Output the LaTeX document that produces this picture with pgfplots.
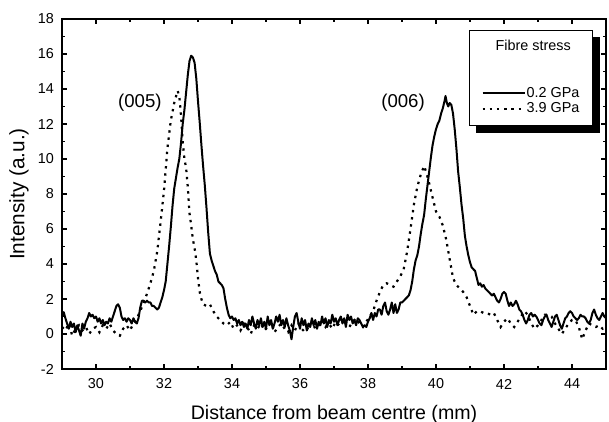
\documentclass[border=0pt]{standalone}
\usepackage{pgfplots}
\pgfplotsset{compat=1.18}
\usepackage{fontspec}
\setmainfont{Liberation Sans}
\usetikzlibrary{backgrounds}

\pgfplotstableread{
x y
29.00 1.0
29.05 1.25
29.10 0.9
29.15 0.6
29.20 0.3
29.25 0.7
29.30 0.4
29.35 0.6
29.40 0.1
29.45 0.5
29.50 0.2
29.55 -0.1
29.60 0.6
29.65 0.3
29.70 0.7
29.75 0.9
29.80 1.2
29.85 1.0
29.90 1.1
29.95 0.9
30.00 1.0
30.05 0.7
30.10 0.9
30.15 0.6
30.20 0.8
30.25 0.5
30.30 0.7
30.35 0.6
30.40 0.9
30.45 0.7
30.50 1.0
30.55 1.3
30.60 1.6
30.65 1.7
30.70 1.5
30.75 1.0
30.80 0.8
30.85 0.9
30.90 0.7
30.95 0.9
31.00 0.8
31.05 0.6
31.10 0.9
31.15 0.7
31.20 0.6
31.25 0.9
31.30 1.5
31.35 1.9
31.40 1.9
31.45 1.8
31.50 1.9
31.55 1.8
31.60 1.8
31.65 1.6
31.70 1.6
31.75 1.5
31.80 1.4
31.85 1.5
31.90 1.8
31.95 2.1
32.00 2.5
32.05 3.0
32.10 4.0
32.15 5.0
32.20 6.1
32.25 7.3
32.30 8.3
32.35 8.9
32.40 9.5
32.45 10.0
32.50 10.9
32.55 12.0
32.60 12.8
32.65 13.8
32.70 14.8
32.75 15.6
32.80 15.9
32.85 15.8
32.90 15.5
32.95 14.6
33.00 13.3
33.05 12.1
33.10 10.8
33.15 9.6
33.20 8.5
33.25 7.2
33.30 5.8
33.35 4.6
33.40 4.2
33.45 3.9
33.50 3.6
33.55 3.4
33.60 3.0
33.65 2.9
33.70 2.8
33.75 2.6
33.80 2.0
33.85 1.5
33.90 1.1
33.95 0.9
34.00 1.0
34.05 0.8
34.10 0.9
34.15 0.6
34.20 0.8
34.25 0.5
34.30 0.7
34.35 0.4
34.40 0.6
34.45 0.3
34.50 0.8
34.55 0.5
34.60 1.0
34.65 0.6
34.70 0.3
34.75 0.8
34.80 0.5
34.85 0.9
34.90 0.4
34.95 0.7
35.00 0.3
35.05 1.0
35.10 0.5
35.15 0.8
35.20 0.3
35.25 0.6
35.30 1.0
35.35 0.7
35.40 1.1
35.45 0.5
35.50 0.8
35.55 0.4
35.60 0.9
35.65 0.5
35.70 0.2
35.75 -0.3
35.80 0.4
35.85 1.0
35.90 1.2
35.95 0.7
36.00 0.3
36.05 0.9
36.10 0.5
36.15 0.8
36.20 0.2
36.25 0.6
36.30 0.4
36.35 0.9
36.40 0.5
36.45 0.8
36.50 0.3
36.55 0.7
36.60 0.5
36.65 1.0
36.70 0.6
36.75 0.9
36.80 0.4
36.85 0.8
36.90 0.6
36.95 1.1
37.00 0.7
37.05 0.9
37.10 0.5
37.15 0.8
37.20 1.0
37.25 0.6
37.30 0.9
37.35 0.4
37.40 1.1
37.45 0.8
37.50 1.0
37.55 0.6
37.60 0.8
37.65 0.5
37.70 0.9
37.75 0.8
37.80 0.6
37.85 0.4
37.90 0.5
37.95 0.4
38.00 0.7
38.05 0.9
38.10 1.2
38.15 0.8
38.20 1.2
38.25 1.0
38.30 1.4
38.35 1.4
38.40 1.1
38.45 1.6
38.50 1.8
38.55 1.3
38.60 1.1
38.65 1.4
38.70 1.8
38.75 1.2
38.80 1.7
38.85 1.2
38.90 1.4
38.95 1.8
39.00 1.8
39.05 1.9
39.10 2.0
39.15 2.1
39.20 2.2
39.25 2.5
39.30 3.0
39.35 3.7
39.40 4.2
39.45 4.5
39.50 5.0
39.55 5.7
39.60 6.3
39.65 6.8
39.70 7.7
39.75 8.5
39.80 9.3
39.85 10.1
39.90 10.8
39.95 11.3
40.00 11.7
40.05 12.0
40.10 12.2
40.15 12.6
40.20 12.9
40.25 13.3
40.28 13.6
40.32 13.2
40.36 13.0
40.40 13.2
40.45 13.1
40.50 12.6
40.55 11.7
40.60 10.6
40.65 9.3
40.70 8.4
40.75 7.4
40.80 6.6
40.85 5.6
40.90 5.0
40.95 4.5
41.00 4.1
41.05 3.8
41.10 3.7
41.15 3.6
41.20 3.2
41.25 2.8
41.30 2.9
41.35 2.7
41.40 2.8
41.45 2.6
41.50 2.5
41.55 2.4
41.60 2.3
41.65 2.2
41.70 2.3
41.75 2.1
41.80 1.9
41.85 1.8
41.90 2.0
41.95 2.3
42.00 2.4
42.05 2.3
42.10 1.9
42.15 1.6
42.20 1.8
42.25 1.6
42.30 1.7
42.35 1.9
42.40 1.7
42.45 1.4
42.50 1.3
42.55 1.1
42.60 0.8
42.65 0.6
42.70 0.8
42.75 1.1
42.80 1.2
42.85 1.0
42.90 1.1
42.95 1.0
43.00 0.8
43.05 0.6
43.10 0.5
43.15 0.8
43.20 1.0
43.25 1.1
43.30 0.8
43.35 0.6
43.40 0.4
43.45 0.7
43.50 1.0
43.55 1.1
43.60 0.8
43.65 0.5
43.70 0.3
43.75 0.6
43.80 0.9
43.85 1.0
43.90 1.2
43.95 1.3
44.00 1.2
44.05 1.0
44.10 0.9
44.15 0.8
44.20 0.9
44.25 1.1
44.30 1.0
44.35 1.0
44.40 0.9
44.45 0.7
44.50 0.6
44.55 0.8
44.60 1.2
44.65 1.4
44.70 1.1
44.75 0.9
44.80 0.8
44.85 1.0
44.90 1.2
44.95 1.0
45.00 0.9
}\lowstress

\pgfplotstableread{
x y
29.00 0.4
29.10 0.2
29.20 0.6
29.30 -0.1
29.40 0.3
29.50 0.5
29.60 0.2
29.70 0.4
29.80 0.0
29.90 0.3
30.00 0.4
30.10 0.1
30.20 0.5
30.30 0.3
30.40 0.6
30.50 0.2
30.60 0.0
30.70 -0.1
30.80 0.3
30.90 0.5
31.00 0.2
31.10 0.6
31.20 0.9
31.30 1.3
31.40 1.8
31.50 2.3
31.60 2.9
31.70 3.6
31.80 4.7
31.90 6.4
32.00 8.2
32.10 10.6
32.20 12.2
32.30 13.2
32.40 13.9
32.45 13.6
32.50 12.5
32.55 11.0
32.60 10.0
32.65 9.5
32.70 8.4
32.75 6.9
32.80 6.2
32.85 5.4
32.90 4.9
32.95 4.2
33.00 3.2
33.05 2.4
33.10 2.0
33.15 1.7
33.25 1.6
33.35 1.7
33.45 1.3
33.55 1.0
33.65 0.8
33.75 0.6
33.85 0.5
33.95 0.7
34.05 0.3
34.15 0.5
34.25 0.2
34.35 0.6
34.45 0.4
34.55 0.0
34.65 0.5
34.75 0.3
34.85 0.6
34.95 0.2
35.05 0.4
35.15 0.7
35.25 0.1
35.35 0.4
35.45 0.6
35.55 0.3
35.65 0.1
35.75 0.5
35.85 0.2
35.95 0.6
36.05 0.3
36.15 0.1
36.25 0.4
36.35 0.7
36.45 0.3
36.55 0.5
36.65 0.8
36.75 0.4
36.85 0.6
36.95 0.3
37.05 0.7
37.15 0.5
37.25 0.9
37.35 0.6
37.45 0.4
37.55 0.7
37.65 0.9
37.75 0.6
37.85 0.4
37.95 0.7
38.05 1.0
38.15 1.3
38.25 1.9
38.35 2.4
38.45 2.8
38.55 2.9
38.65 2.8
38.75 2.7
38.85 3.0
38.95 3.3
39.05 3.7
39.15 4.7
39.25 6.0
39.35 7.4
39.45 8.4
39.55 9.1
39.65 9.6
39.72 9.2
39.80 8.6
39.90 7.8
40.00 7.0
40.10 6.7
40.20 6.2
40.30 5.4
40.40 4.3
40.50 3.2
40.60 2.8
40.70 2.6
40.80 2.4
40.90 2.1
41.00 1.6
41.10 1.1
41.20 1.3
41.30 1.3
41.40 1.2
41.50 1.2
41.60 1.1
41.70 1.2
41.80 0.8
41.90 0.4
42.00 0.7
42.10 0.9
42.20 0.6
42.30 0.4
42.40 0.7
42.50 1.0
42.60 1.3
42.70 1.1
42.80 0.6
42.90 0.3
43.00 0.5
43.10 0.8
43.20 1.1
43.30 1.1
43.40 1.0
43.50 0.6
43.60 0.3
43.70 0.0
43.80 0.3
43.90 0.6
44.00 0.8
44.10 0.8
44.20 0.4
44.30 -0.3
44.40 0.2
44.50 0.6
44.60 0.5
44.70 0.4
44.80 0.5
44.90 0.3
45.00 0.4
}\highstress

\begin{document}
\begin{tikzpicture}
\begin{axis}[
  scale only axis,
  width=272pt, height=175pt,
  xmin=29, xmax=45, ymin=-2, ymax=18,
  xtick={30,32,...,44}, ytick={-2,0,...,18},
  minor x tick num=1, minor y tick num=1,
  tick align=inside,
  major tick length=2.6pt, minor tick length=1.6pt,
  every tick/.style={black, line width=0.6pt},
  axis line style={line width=0.75pt},
  /pgf/number format/assume math mode=true,
  tick label style={font=\fontsize{7.2}{8}\selectfont},
  xticklabel style={anchor=center, yshift=-7.5pt},
  yticklabel style={anchor=east, inner sep=0pt, xshift=-3.9pt},
  xlabel={Distance from beam centre (mm)},
  ylabel={Intensity (a.u.)},
  x label style={font=\fontsize{9.8}{11}\selectfont, at={(axis description cs:0.5,-0.131)}, anchor=center},
  y label style={font=\fontsize{10.4}{12}\selectfont, at={(axis description cs:-0.079,0.5)}, anchor=center},
  legend cell align=left,
  legend image code/.code={\draw[#1] (0pt,0pt) -- (21pt,0pt);},
  legend style={
    name=fibreleg,
    at={(rel axis cs:0.976,0.9686)}, anchor=north east,
    draw=black, line width=0.5pt, fill=white,
    font=\fontsize{7.2}{8}\selectfont,
    inner xsep=6pt, inner ysep=4.3pt,
    row sep=0pt,
    nodes={inner xsep=0.5pt, inner ysep=1pt, text height=4.9pt, text depth=0.85pt},
  },
]
\addlegendimage{empty legend}
\addlegendentry{\hspace*{-15.5pt}Fibre stress}
\addlegendimage{empty legend}
\addlegendentry{}
\addlegendimage{empty legend}
\addlegendentry{}
\addplot[black, line width=1pt, line join=round] table[x=x,y=y] {\lowstress};
\addlegendentry{0.2 GPa}
\addplot[black, line width=1.1pt, dash pattern=on 1.2pt off 2.4pt, line cap=butt] table[x=x,y=y] {\highstress};
\addlegendentry{3.9 GPa}
\node[font=\fontsize{9.3}{10}\selectfont] at (axis cs:31.29,13.2) {(005)};
\node[font=\fontsize{9.3}{10}\selectfont] at (axis cs:39.03,13.2) {(006)};
\end{axis}
\begin{scope}[on background layer]
\fill[black] ([xshift=3.5pt,yshift=-3.5pt]fibreleg.south west) rectangle ([xshift=3.5pt,yshift=-3.5pt]fibreleg.north east);
\end{scope}
\pgfresetboundingbox
\path (-31pt,-26.5pt) rectangle (273.5pt,184.5pt);
\end{tikzpicture}
\end{document}
